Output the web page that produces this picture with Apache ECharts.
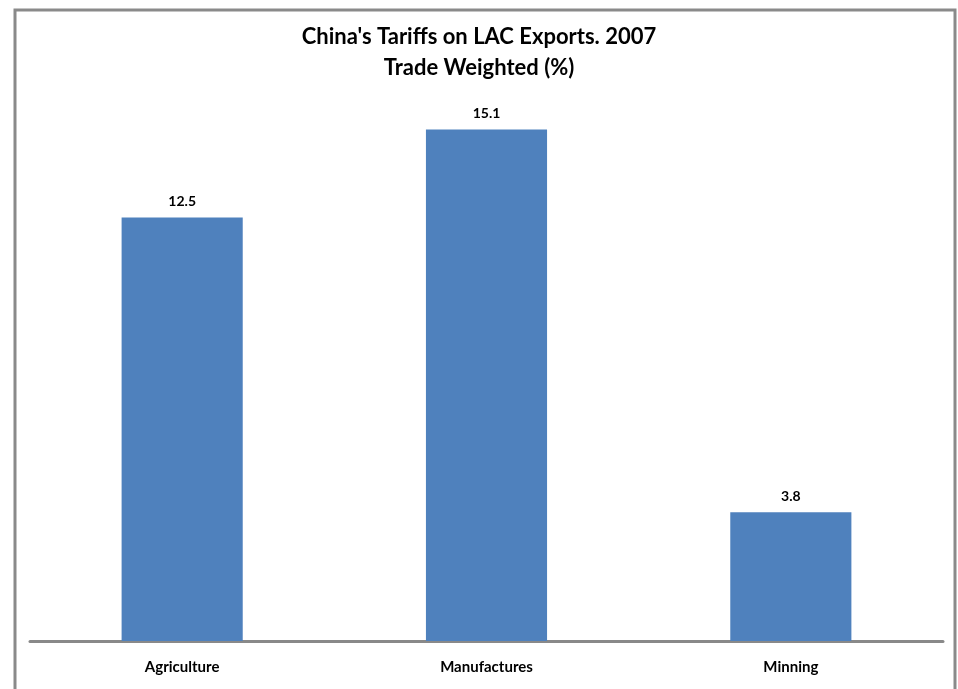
<!DOCTYPE html>
<html>
<head>
<meta charset="utf-8">
<script src="https://cdn.jsdelivr.net/npm/echarts@6/dist/echarts.min.js"></script>
<style>
  html, body { margin: 0; padding: 0; background: #fff; }
  #chart { width: 958px; height: 689px; }
</style>
</head>
<body>
<div id="chart"></div>
<script>
  // data
  const categories = ['Agriculture', 'Manufactures', 'Minning'];
  const tariffs = [12.5, 15.1, 3.8];

  const chart = echarts.init(document.getElementById('chart'));

  const option = {
    backgroundColor: '#fff',
    animation: false,
    title: {
      text: "China's Tariffs on LAC Exports. 2007\nTrade Weighted (%)",
      left: 'center',
      top: 16,
      textStyle: {
        fontFamily: 'Lato',
        fontWeight: 'bold',
        fontSize: 22,
        lineHeight: 31,
        color: '#000'
      }
    },
    graphic: [{
      type: 'rect',
      shape: { x: 15, y: 10, width: 940, height: 700 },
      style: { fill: 'none', stroke: '#8a8a8a', lineWidth: 3 },
      silent: true
    }],
    grid: { left: 30, right: 15, top: 99, bottom: 48 },
    xAxis: {
      type: 'category',
      data: categories,
      axisLine: { lineStyle: { color: '#898989', width: 3 } },
      axisTick: { show: false },
      axisLabel: {
        margin: 19,
        fontFamily: 'Lato',
        fontWeight: 'bold',
        fontSize: 15,
        color: '#000'
      }
    },
    yAxis: {
      type: 'value',
      min: 0,
      max: 16,
      show: false,
      splitLine: { show: false }
    },
    series: [{
      type: 'bar',
      data: tariffs,
      barWidth: '39.8%',
      itemStyle: { color: '#4f81bd' },
      label: {
        show: true,
        position: 'top',
        distance: 9,
        fontFamily: 'Lato',
        fontWeight: 'bold',
        fontSize: 14,
        color: '#000',
        formatter: p => p.value.toFixed(1)
      }
    }]
  };

  chart.setOption(option);
</script>
</body>
</html>
